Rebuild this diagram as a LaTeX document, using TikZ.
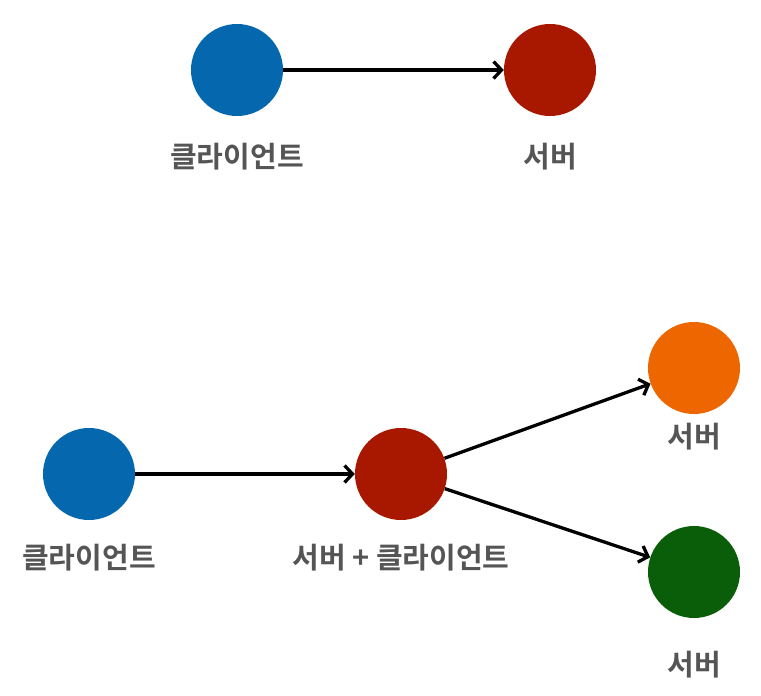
\documentclass[tikz,border=0pt]{standalone}
\usepackage{fontspec}
\newfontfamily\kr{Noto Sans CJK KR}[BoldFont={* Bold}]
\usetikzlibrary{arrows.meta}
\definecolor{cblue}{HTML}{0568AE}
\definecolor{cred}{HTML}{A81700}
\definecolor{corange}{HTML}{EE6600}
\definecolor{cgreen}{HTML}{0A5E0A}
\definecolor{ctext}{HTML}{555555}
\tikzset{
  dot/.style={circle, minimum size=92pt, inner sep=0pt, draw=none, fill=#1},
  lbl/.style={font=\kr\bfseries\fontsize{29}{32}\selectfont, text=ctext, inner sep=0pt},
  conn/.style={line width=3.3pt, -{Straight Barb[length=8pt,width=17pt,line width=3.3pt]}}
}
\begin{document}
\begin{tikzpicture}[x=1pt,y=-1pt]
\useasboundingbox (0,0) rectangle (761,696);
% top
\node[dot=cblue] (c1) at (237,70) {};
\node[dot=cred] (s1) at (550,70) {};
\node[lbl] (lc1) at (237,157) {클라이언트};
\node[lbl] (ls1) at (550,157) {서버};
\draw[conn] (c1) -- (s1);
% bottom
\node[dot=cblue] (c2) at (89,474) {};
\node[dot=cred] (m2) at (401,474) {};
\node[dot=corange] (s2) at (694,368) {};
\node[dot=cgreen] (s3) at (694,572) {};
\node[lbl] (lc2) at (89,558) {클라이언트};
\node[lbl] (lm2) at (401,558) {서버 + 클라이언트};
\node[lbl] (ls2) at (694,437) {서버};
\node[lbl] (ls3) at (694,665) {서버};
\draw[conn] (c2) -- (m2);
\draw[conn] (m2) -- (s2);
\draw[conn] (m2) -- (s3);
\end{tikzpicture}
\end{document}
